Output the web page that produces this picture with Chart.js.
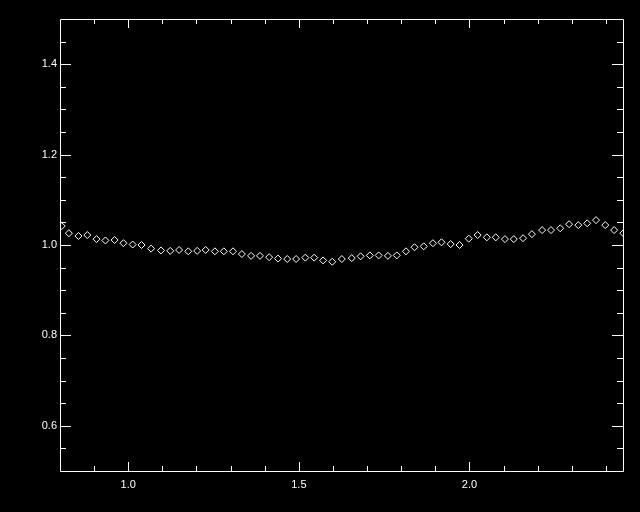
<!DOCTYPE html>
<html>
<head>
<meta charset="utf-8">
<script src="https://cdn.jsdelivr.net/npm/chart.js@4.4.1/dist/chart.umd.min.js"></script>
<style>
  html, body { margin: 0; padding: 0; background: #000; }
  canvas { display: block; }
</style>
</head>
<body>
<canvas id="plot" width="640" height="512"></canvas>
<script>
const xValues = [
  0.805, 0.826, 0.854, 0.880, 0.907, 0.933, 0.960, 0.986, 1.013, 1.039,
  1.067, 1.096, 1.123, 1.149, 1.176, 1.202, 1.227, 1.254, 1.280, 1.307,
  1.333, 1.360, 1.386, 1.413, 1.439, 1.466, 1.492, 1.519, 1.545, 1.571,
  1.598, 1.626, 1.655, 1.681, 1.708, 1.734, 1.761, 1.787, 1.814, 1.839,
  1.866, 1.893, 1.918, 1.945, 1.971, 1.998, 2.024, 2.051, 2.077, 2.104,
  2.130, 2.157, 2.183, 2.213, 2.239, 2.266, 2.292, 2.319, 2.345, 2.371,
  2.398, 2.424, 2.451
];
const yValues = [
  1.042, 1.026, 1.020, 1.022, 1.013, 1.010, 1.011, 1.004, 1.001, 1.000,
  0.992, 0.988, 0.987, 0.989, 0.986, 0.987, 0.989, 0.986, 0.986, 0.986,
  0.980, 0.976, 0.976, 0.973, 0.970, 0.969, 0.969, 0.972, 0.972, 0.966,
  0.963, 0.969, 0.971, 0.975, 0.977, 0.977, 0.976, 0.977, 0.986, 0.995,
  0.997, 1.004, 1.006, 1.002, 1.000, 1.014, 1.022, 1.017, 1.017, 1.013,
  1.013, 1.015, 1.024, 1.033, 1.033, 1.037, 1.046, 1.044, 1.048, 1.055,
  1.044, 1.033, 1.026
];

const xTicks = [1.0, 1.5, 2.0];
const yTicks = [0.6, 0.8, 1.0, 1.2, 1.4];
const xMinor = [0.9, 1.1, 1.2, 1.3, 1.4, 1.6, 1.7, 1.8, 1.9, 2.1, 2.2, 2.3, 2.4];
const yMinor = [0.55, 0.65, 0.7, 0.75, 0.85, 0.9, 0.95, 1.05, 1.1, 1.15, 1.25, 1.3, 1.35, 1.45];

const points = xValues.map((x, i) => ({ x: x, y: yValues[i] }));

// IDL style box with inward ticks on all four sides
const frame = {
  id: 'frame',
  afterDraw(chart) {
    const ctx = chart.ctx;
    const a = chart.chartArea;
    const xs = chart.scales.x, ys = chart.scales.y;
    ctx.save();
    ctx.strokeStyle = '#fff';
    ctx.lineWidth = 1;
    ctx.beginPath();
    ctx.rect(a.left + 0.5, a.top + 0.5, a.right - a.left, a.bottom - a.top);
    const xt = (v, len) => {
      const p = Math.round(xs.getPixelForValue(v)) + 0.5;
      ctx.moveTo(p, a.bottom); ctx.lineTo(p, a.bottom - len);
      ctx.moveTo(p, a.top); ctx.lineTo(p, a.top + len);
    };
    const yt = (v, len) => {
      const p = Math.round(ys.getPixelForValue(v)) + 0.5;
      ctx.moveTo(a.left, p); ctx.lineTo(a.left + len, p);
      ctx.moveTo(a.right, p); ctx.lineTo(a.right - len, p);
    };
    xTicks.forEach(v => xt(v, 9));
    xMinor.forEach(v => xt(v, 5));
    yTicks.forEach(v => yt(v, 11));
    yMinor.forEach(v => yt(v, 6));
    ctx.stroke();
    ctx.restore();
  }
};

new Chart(document.getElementById('plot'), {
  type: 'scatter',
  data: {
    datasets: [{
      data: points,
      showLine: false,
      pointStyle: 'rectRot',
      pointRadius: 3.5,
      pointBorderWidth: 1,
      pointBorderColor: '#fff',
      pointBackgroundColor: '#000',
      clip: 0
    }]
  },
  options: {
    responsive: false,
    animation: false,
    events: [],
    layout: { padding: { top: 19, right: 17, left: 0, bottom: 0 } },
    plugins: { legend: { display: false }, tooltip: { enabled: false } },
    scales: {
      x: {
        type: 'linear',
        min: 0.8,
        max: 2.45,
        grid: { display: false, drawTicks: false },
        border: { display: false },
        afterBuildTicks: s => { s.ticks = xTicks.map(v => ({ value: v })); },
        afterFit: s => { s.height = 41; },
        ticks: {
          color: '#fff',
          padding: 7,
          maxRotation: 0,
          font: { family: 'Liberation Sans', size: 11 },
          callback: v => Number(v).toFixed(1)
        }
      },
      y: {
        type: 'linear',
        min: 0.5,
        max: 1.5,
        grid: { display: false, drawTicks: false },
        border: { display: false },
        afterBuildTicks: s => { s.ticks = yTicks.map(v => ({ value: v })); },
        afterFit: s => { s.width = 60; },
        ticks: {
          color: '#fff',
          padding: 3,
          font: { family: 'Liberation Sans', size: 11 },
          callback: v => Number(v).toFixed(1)
        }
      }
    }
  },
  plugins: [frame]
});
</script>
</body>
</html>
